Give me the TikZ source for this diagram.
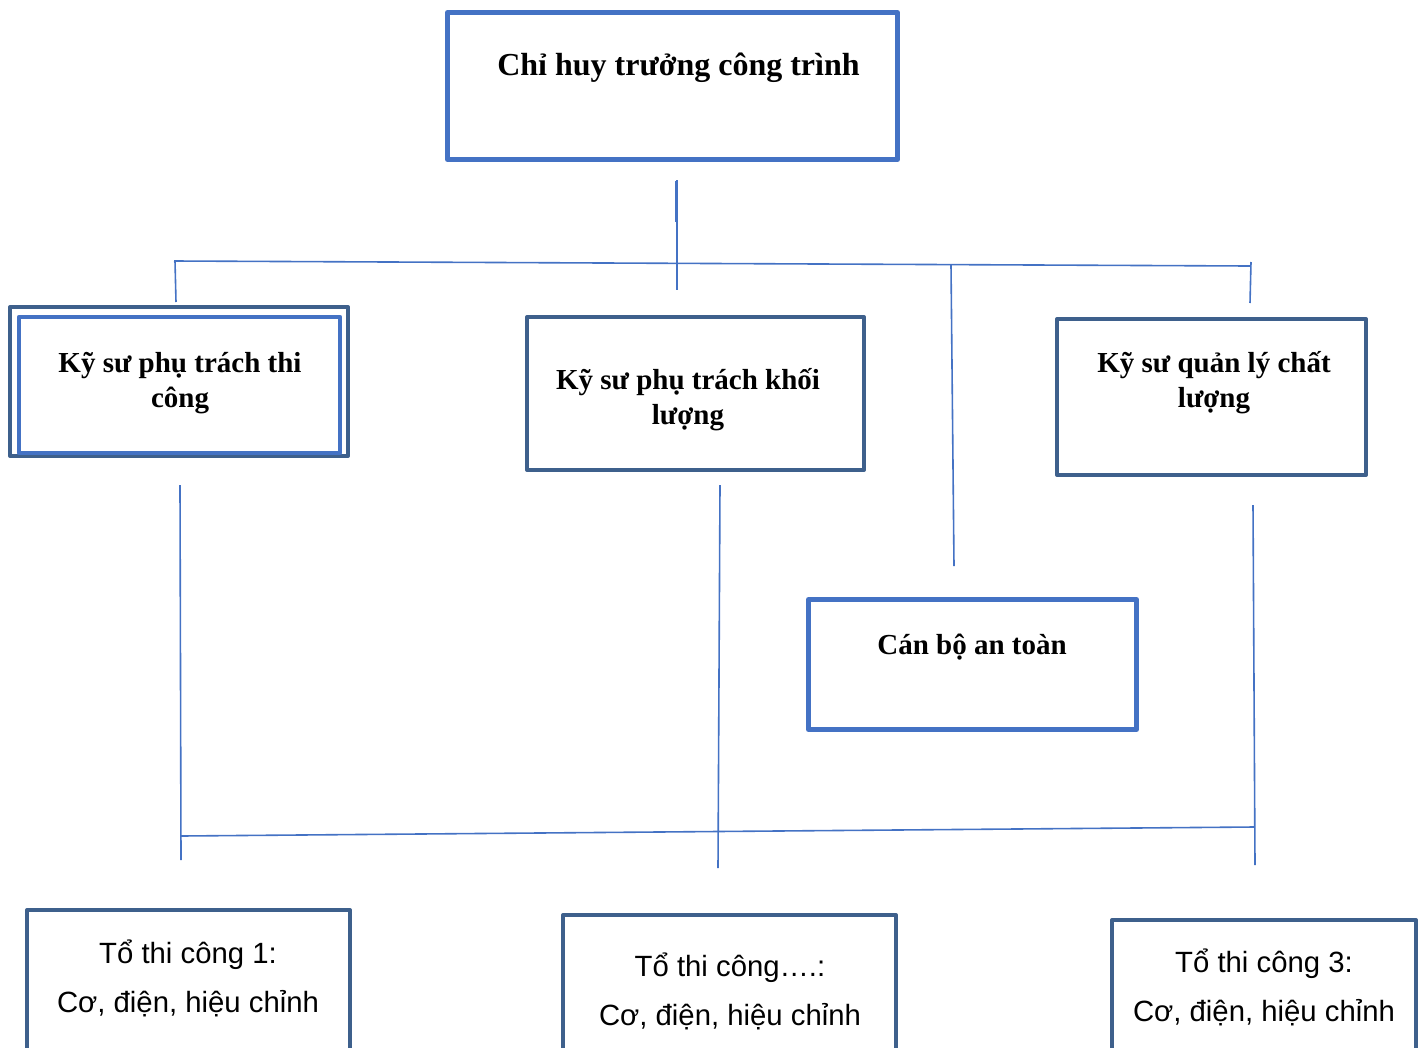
\documentclass[tikz,border=0pt]{standalone}
\usepackage{fontspec}
\setmainfont{Liberation Serif}
\setsansfont{Liberation Sans}
\usetikzlibrary{calc}
\definecolor{boxblue}{RGB}{68,114,196}
\definecolor{boxnavy}{RGB}{62,96,140}

\tikzset{
  frame/.style={draw, inner sep=0pt, line join=round},
  blueframe/.style={frame, draw=boxblue, line width=5pt},
  navyframe/.style={frame, draw=boxnavy, line width=4pt},
  headtext/.style={font=\bfseries\fontsize{29}{35}\selectfont, align=center, anchor=base},
  crewtext/.style={font=\sffamily\fontsize{29.3}{49}\selectfont, align=center, anchor=base},
  link/.style={draw=boxblue, line width=1.6pt}
}

\begin{document}
\begin{tikzpicture}[x=1pt,y=-1pt]
  \useasboundingbox (0,0) rectangle (1424,1047);

  % boxes
  \node[blueframe, minimum width=450, minimum height=147] (chief) at (672.5,86) {};
  \node[navyframe, minimum width=338, minimum height=149] (eng1) at (179,381.5) {};
  \node[blueframe, line width=4.5pt, minimum width=321, minimum height=136] (eng1in) at (179.5,385) {};
  \node[navyframe, minimum width=337, minimum height=153] (eng2) at (695.5,393.5) {};
  \node[navyframe, minimum width=309, minimum height=156] (eng3) at (1211.5,397) {};
  \node[blueframe, minimum width=328, minimum height=130] (safety) at (972.5,664.5) {};
  \node[navyframe, minimum width=323, minimum height=160] (crew1) at (188.5,990) {};
  \node[navyframe, minimum width=333, minimum height=160] (crew2) at (729.5,995) {};
  \node[navyframe, minimum width=304, minimum height=160] (crew3) at (1264,1000) {};

  % texts (base = last line)
  \node[headtext, font=\bfseries\fontsize{32}{35}\selectfont] (chieftxt) at (678.5,75) {Chỉ huy trưởng công trình};
  \node[headtext] (eng1txt) at (180,407) {Kỹ sư phụ trách thi\\công};
  \node[headtext] (eng2txt) at (688,424) {Kỹ sư phụ trách khối\\lượng};
  \node[headtext] (eng3txt) at (1214,407) {Kỹ sư quản lý chất\\lượng};
  \node[headtext] (safetytxt) at (972,654) {Cán bộ an toàn};
  \node[crewtext] (crew1txt) at (188,1012) {Tổ thi công 1:\\Cơ, điện, hiệu chỉnh};
  \node[crewtext] (crew2txt) at (730,1025) {Tổ thi công….:\\Cơ, điện, hiệu chỉnh};
  \node[crewtext] (crew3txt) at (1264,1021) {Tổ thi công 3:\\Cơ, điện, hiệu chỉnh};

  % coordinates of the lines
  \coordinate (topA) at (677,180);
  \coordinate (topB) at (677,290);
  \coordinate (busL) at (174,261);
  \coordinate (busR) at (1250,266);
  \coordinate (busS) at (951,265);
  \coordinate (lowL) at (181,836);
  \coordinate (lowR) at (1254,827);

  % upper lines
  \draw[link] (topA) -- (topB);
  \draw[link, line width=1pt] (675,181) -- (675,222);
  \draw[link] (busL) -- (busR);
  \draw[link] ($(busL)+(1,0)$) -- (176,302);
  \draw[link] ($(busR)+(1,-4)$) -- (1250,303);
  \draw[link] (busS) -- (954,566);

  % lower lines
  \draw[link] (180,485) -- (181,860);
  \draw[link] (720,485) -- (718,868);
  \draw[link] (1253,505) -- (1255,865);
  \draw[link] (lowL) -- (lowR);
\end{tikzpicture}
\end{document}
